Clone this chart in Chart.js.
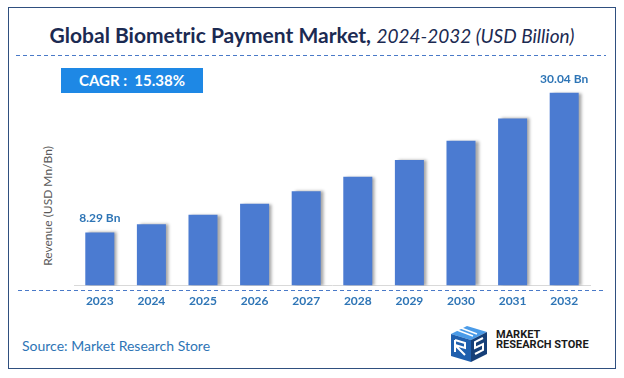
<!DOCTYPE html>
<html>
<head>
<meta charset="utf-8">
<script src="https://cdn.jsdelivr.net/npm/chart.js@4.4.1/dist/chart.umd.min.js"></script>
<style>
  html, body { margin: 0; padding: 0; background: #fff; }
  #wrap { position: relative; width: 624px; height: 378px; overflow: hidden; font-family: Lato, 'Noto Sans', sans-serif; }
  #frame { position: absolute; left: 8px; top: 7px; width: 608px; height: 362px; border: 1.5px solid #2f4f7f; box-sizing: border-box; }
  #title { position: absolute; left: 0; width: 624px; top: 22px; text-align: center; color: #1b2a52; font-size: 21px; white-space: nowrap; }
  #title b { font-weight: 700; }
  #title i { font-weight: 400; font-size: 19px; }
  #cagr { position: absolute; left: 61px; top: 68px; width: 142px; height: 25px; background: #1e88e5; color: #fff; font-weight: 700; font-size: 15px; line-height: 25px; text-align: center; }
  #ytitle { position: absolute; left: 47px; top: 206px; transform: translate(-50%, -50%) rotate(-90deg); color: #595959; font-size: 12px; white-space: nowrap; }
  #source { position: absolute; left: 22px; top: 337px; color: #2e75b6; font-size: 14px; }
  #logo { position: absolute; left: 449px; top: 324px; }
  #logotext { position: absolute; left: 496px; top: 330px; font-family: 'Liberation Sans Narrow', 'Roboto', sans-serif; font-weight: 700; font-size: 11px; line-height: 10px; color: #1a1a1a; letter-spacing: 0; }
  svg.lines { position: absolute; left: 0; top: 0; }
  canvas { position: absolute; left: 0; top: 0; }
</style>
</head>
<body>
<div id="wrap">
  <div id="frame"></div>
  <div id="title"><b>Global Biometric Payment Market,</b> <i>2024-2032 (USD Billion)</i></div>
  <svg class="lines" width="624" height="378">
    <line x1="16" y1="55.5" x2="606" y2="55.5" stroke="#4a7ac8" stroke-width="1" stroke-dasharray="4 3"/>
    <line x1="18" y1="290.5" x2="606" y2="290.5" stroke="#4a7ac8" stroke-width="1" stroke-dasharray="4 3"/>
  </svg>
  <div id="cagr">CAGR :&nbsp; 15.38%</div>
  <div id="ytitle">Revenue (USD Mn/Bn)</div>
  <div id="source">Source: Market Research Store</div>
  <svg id="logo" width="42" height="40" viewBox="0 0 42 40">
    <polygon points="2,10 18,2 38,8 22,16" fill="#4a9be8"/>
    <polygon points="2,10 22,16 22,38 2,32" fill="#1f5fae"/>
    <polygon points="22,16 38,8 38,30 22,38" fill="#163f78"/>
    <path d="M8,6 L24,12 M12,4 L28,10" stroke="#fff" stroke-width="1.6"/>
    <path d="M6,16 L6,28 M6,16 L16,19 L16,24 L6,21 L16,31" stroke="#fff" stroke-width="2" fill="none"/>
    <path d="M34,14 L26,18 L26,24 L34,20 L34,26 L26,30" stroke="#fff" stroke-width="2" fill="none"/>
  </svg>
  <div id="logotext">MARKET<br>RESEARCH STORE</div>
  <canvas id="chart" width="624" height="378"></canvas>
</div>
<script>
const years = ['2023', '2024', '2025', '2026', '2027', '2028', '2029', '2030', '2031', '2032'];
const revenue = [8.29, 9.57, 11.04, 12.74, 14.70, 16.96, 19.57, 22.58, 26.05, 30.04];
const shownLabels = ['8.29 Bn', '', '', '', '', '', '', '', '', '30.04 Bn'];

const barShadow = {
  id: 'barShadow',
  beforeDatasetsDraw(chart) {
    const ctx = chart.ctx;
    ctx.save();
    ctx.shadowColor = 'rgba(0, 0, 0, 0.35)';
    ctx.shadowOffsetX = 3;
    ctx.shadowOffsetY = 0;
    ctx.shadowBlur = 3;
  },
  afterDatasetsDraw(chart) {
    chart.ctx.restore();
  },
};

const valueLabels = {
  id: 'valueLabels',
  afterDatasetsDraw(chart) {
    const ctx = chart.ctx;
    const meta = chart.getDatasetMeta(0);
    ctx.save();
    ctx.font = 'bold 12px Lato, sans-serif';
    ctx.fillStyle = '#2e75b6';
    ctx.textAlign = 'center';
    ctx.textBaseline = 'middle';
    meta.data.forEach((bar, index) => {
      const text = shownLabels[index];
      if (text) {
        ctx.fillText(text, bar.x, bar.y - 14);
      }
    });
    ctx.restore();
  },
};

new Chart(document.getElementById('chart').getContext('2d'), {
  type: 'bar',
  data: {
    labels: years,
    datasets: [
      {
        label: 'Revenue',
        data: revenue,
        backgroundColor: '#4b7bd1',
        borderWidth: 0,
        barPercentage: 0.75,
        categoryPercentage: 0.75,
      },
    ],
  },
  options: {
    responsive: false,
    animation: false,
    layout: { padding: { left: 74, right: 34, top: 61, bottom: 62 } },
    plugins: {
      legend: { display: false },
      tooltip: { enabled: false },
    },
    scales: {
      x: {
        grid: { display: false, drawTicks: false },
        border: { display: true, color: '#d9d9d9', width: 1 },
        ticks: {
          color: '#2e75b6',
          font: { family: 'Lato, sans-serif', size: 12, weight: 'bold' },
          padding: 8,
        },
      },
      y: {
        display: false,
        min: 0,
        max: 35,
      },
    },
  },
  plugins: [barShadow, valueLabels],
});
</script>
</body>
</html>
